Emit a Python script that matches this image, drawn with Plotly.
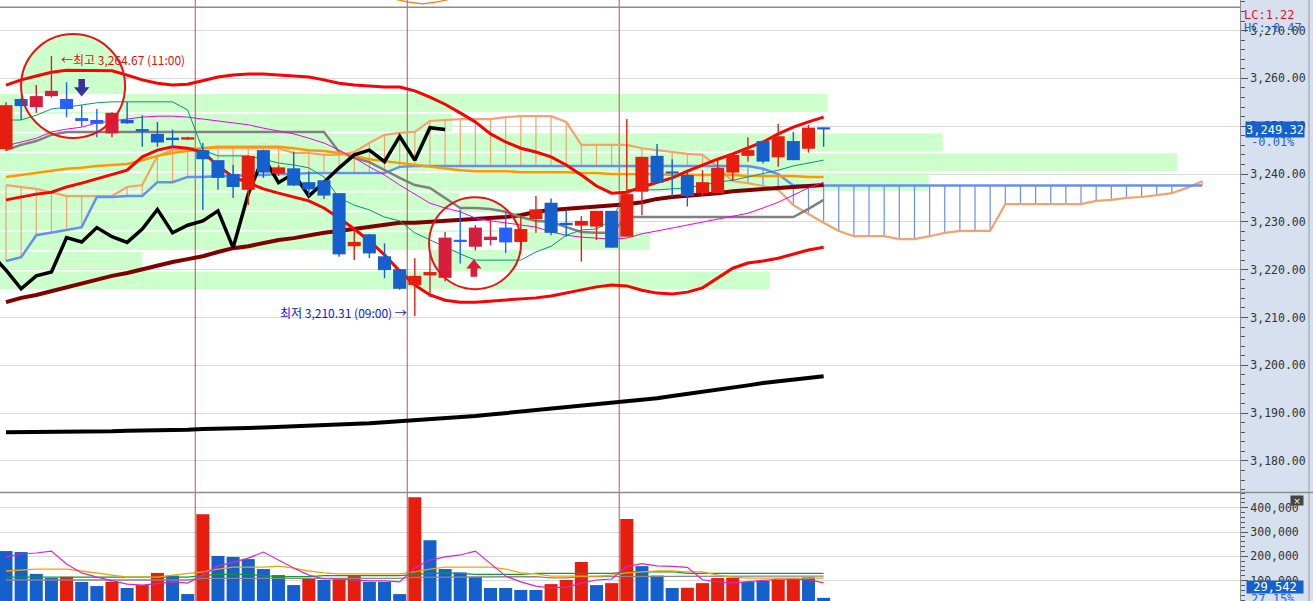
import math
import plotly.graph_objects as go

# ======================= DATA =======================
bar_idx = list(range(55))
price_open = [3245.2, 3255.7, 3254.0, 3256.3, 3255.7, 3251.7, 3251.3, 3248.5, 3251.3, 3249.4,
              3248.4, 3247.6, 3247.2, 3245.0, 3242.9, 3240.0, 3236.7, 3245.0, 3240.1, 3241.2,
              3238.3, 3238.7, 3236.0, 3224.9, 3227.4, 3222.8, 3220.1, 3216.8, 3218.8, 3218.3,
              3226.2, 3224.8, 3226.2, 3228.8, 3225.8, 3230.6, 3234.0, 3229.8, 3229.2, 3229.0,
              3232.3, 3226.9, 3236.3, 3243.8, 3240.5, 3239.8, 3236.0, 3236.0, 3240.3, 3243.8,
              3246.9, 3243.5, 3246.9, 3245.3, 3249.7]
price_high = [3255.0, 3255.9, 3258.6, 3264.67, 3259.2, 3254.4, 3253.6, 3252.9, 3255.1, 3252.3,
              3250.9, 3249.3, 3247.8, 3246.5, 3242.9, 3241.9, 3243.8, 3245.0, 3241.8, 3244.7,
              3240.5, 3238.7, 3236.0, 3228.3, 3227.4, 3225.5, 3220.1, 3222.4, 3223.4, 3227.9,
              3232.6, 3229.3, 3230.6, 3232.1, 3231.4, 3235.4, 3234.9, 3232.6, 3231.2, 3232.3,
              3232.3, 3251.5, 3243.6, 3246.3, 3243.1, 3240.6, 3240.8, 3243.3, 3244.0, 3247.7,
              3246.9, 3250.5, 3248.8, 3250.3, 3249.7]
price_low = [3244.8, 3251.3, 3252.8, 3256.0, 3251.9, 3249.9, 3247.7, 3247.7, 3250.5, 3245.7,
             3245.7, 3245.7, 3247.1, 3232.5, 3236.7, 3235.0, 3233.5, 3239.2, 3239.6, 3237.5,
             3235.3, 3234.8, 3222.7, 3222.0, 3222.4, 3218.2, 3215.8, 3210.31, 3214.3, 3217.5,
             3221.3, 3224.0, 3225.1, 3223.5, 3225.8, 3227.7, 3227.2, 3226.9, 3221.7, 3226.2,
             3224.6, 3226.9, 3231.4, 3238.2, 3235.3, 3233.2, 3235.4, 3236.0, 3238.6, 3242.6,
             3242.2, 3241.5, 3242.9, 3244.5, 3245.7]
price_close = [3254.4, 3254.2, 3256.3, 3257.4, 3253.6, 3251.1, 3250.5, 3252.8, 3250.6, 3248.9,
               3246.6, 3247.1, 3247.7, 3243.1, 3239.2, 3237.3, 3243.8, 3240.3, 3241.4, 3237.6,
               3236.8, 3235.5, 3223.2, 3225.8, 3223.4, 3219.9, 3216.0, 3218.7, 3219.5, 3226.7,
               3225.8, 3228.8, 3226.9, 3225.7, 3228.5, 3232.6, 3227.7, 3229.3, 3230.2, 3232.3,
               3224.6, 3235.8, 3243.6, 3238.2, 3240.1, 3235.4, 3238.3, 3241.3, 3244.0, 3245.0,
               3242.6, 3247.9, 3242.9, 3249.7, 3249.32]
circled_bars = [2, 3, 4, 5, 6, 7, 29, 30, 31, 32, 33]
lag_shift = 25

bb_upper = [3258.6, 3259.7, 3260.5, 3261.3, 3261.7, 3261.7, 3261.7, 3261.6, 3260.7, 3259.7,
            3259.0, 3258.6, 3258.8, 3259.5, 3260.3, 3260.7, 3260.9, 3260.9, 3260.7, 3260.5,
            3260.3, 3259.7, 3259.0, 3258.6, 3258.4, 3258.2, 3258.2, 3257.4, 3256.1, 3254.6,
            3252.8, 3250.9, 3248.4, 3246.7, 3245.4, 3244.6, 3243.6, 3241.9, 3239.8, 3237.5,
            3236.0, 3236.2, 3237.3, 3238.3, 3239.2, 3240.6, 3241.9, 3243.1, 3244.2, 3245.4,
            3246.7, 3248.4, 3249.8, 3250.9, 3251.9]
bb_lower = [3234.6, 3235.2, 3235.8, 3236.2, 3237.3, 3238.1, 3239.0, 3240.0, 3240.8, 3243.6,
            3245.0, 3245.7, 3245.4, 3244.6, 3241.7, 3239.4, 3238.1, 3236.9, 3236.0, 3235.2,
            3234.4, 3232.9, 3230.8, 3228.5, 3226.0, 3223.1, 3219.7, 3216.8, 3214.7, 3213.6,
            3213.2, 3213.2, 3213.4, 3213.6, 3213.9, 3214.1, 3214.5, 3215.1, 3215.7, 3216.4,
            3216.8, 3216.6, 3215.7, 3215.1, 3214.9, 3215.3, 3216.2, 3218.2, 3220.3, 3221.4,
            3221.8, 3222.4, 3223.3, 3224.1, 3224.7]
ma_maroon = [3213.2, 3214.1, 3214.7, 3215.5, 3216.4, 3217.2, 3217.8, 3218.7, 3219.3, 3220.1,
             3220.8, 3221.6, 3222.2, 3222.8, 3223.7, 3224.5, 3224.9, 3225.6, 3226.2, 3226.6,
             3227.2, 3227.7, 3228.1, 3228.5, 3228.9, 3229.3, 3229.8, 3229.8, 3230.0, 3230.0,
             3230.2, 3230.4, 3230.6, 3231.0, 3231.4, 3232.1, 3232.5, 3232.7, 3232.9, 3233.1,
             3233.5, 3233.7, 3234.1, 3234.8, 3235.2, 3235.4, 3235.6, 3236.0, 3236.4, 3236.7,
             3236.9, 3237.1, 3237.3, 3237.5, 3237.7]
ma_black = [3186.0, 3186.0, 3186.0, 3186.0, 3186.1, 3186.1, 3186.2, 3186.2, 3186.3, 3186.3,
            3186.4, 3186.4, 3186.5, 3186.7, 3186.7, 3186.8, 3186.9, 3187.0, 3187.1, 3187.2,
            3187.3, 3187.5, 3187.6, 3187.7, 3187.9, 3188.1, 3188.3, 3188.5, 3188.8, 3189.0,
            3189.2, 3189.4, 3189.7, 3190.0, 3190.2, 3190.5, 3190.8, 3191.1, 3191.4, 3191.7,
            3192.1, 3192.5, 3192.8, 3193.1, 3193.6, 3194.0, 3194.4, 3194.8, 3195.2, 3195.8,
            3196.3, 3196.7, 3197.1, 3197.4, 3197.7]
ma_orange = [3239.4, 3239.8, 3240.2, 3240.6, 3241.1, 3241.3, 3241.7, 3241.9, 3242.1, 3242.9,
             3243.8, 3244.4, 3244.8, 3245.4, 3245.7, 3245.7, 3245.7, 3245.7, 3245.7, 3245.4,
             3245.0, 3244.8, 3244.4, 3243.8, 3243.1, 3242.7, 3242.3, 3241.9, 3241.5, 3241.1,
             3240.8, 3240.6, 3240.6, 3240.6, 3240.4, 3240.4, 3240.4, 3240.4, 3240.2, 3240.2,
             3240.0, 3240.0, 3240.0, 3240.0, 3239.8, 3239.8, 3239.8, 3239.8, 3239.8, 3239.6,
             3239.6, 3239.6, 3239.6, 3239.4, 3239.4]
kijun = [3245.0, 3246.1, 3246.9, 3248.2, 3248.8, 3248.8, 3248.8, 3248.8, 3248.8, 3248.8,
         3248.8, 3248.8, 3248.8, 3248.8, 3248.8, 3248.8, 3248.8, 3248.8, 3248.8, 3248.8,
         3248.8, 3248.8, 3244.6, 3243.4, 3242.5, 3240.8, 3239.2, 3237.7, 3237.1, 3235.0,
         3232.9, 3232.9, 3232.7, 3232.1, 3231.0, 3230.2, 3230.0, 3228.9, 3227.9, 3227.7,
         3227.7, 3231.0, 3231.0, 3231.0, 3231.0, 3231.0, 3231.0, 3231.0, 3231.0, 3231.0,
         3231.0, 3231.0, 3231.0, 3232.7, 3234.6]
ma_magenta = [3245.9, 3246.7, 3247.5, 3248.8, 3249.4, 3249.8, 3250.7, 3251.1, 3251.5, 3251.9,
              3252.1, 3252.1, 3251.9, 3251.5, 3251.1, 3250.7, 3250.3, 3249.6, 3249.0, 3248.4,
              3247.5, 3246.5, 3245.0, 3243.4, 3241.5, 3239.8, 3237.7, 3235.8, 3233.9, 3232.9,
              3232.1, 3230.8, 3230.2, 3229.8, 3229.3, 3228.9, 3227.9, 3227.2, 3226.8, 3226.6,
              3226.4, 3226.6, 3227.5, 3228.1, 3228.7, 3229.3, 3230.0, 3230.6, 3231.2, 3231.8,
              3232.9, 3234.1, 3235.6, 3237.1, 3238.3]
tenkan = [3251.3, 3251.3, 3252.3, 3253.6, 3254.0, 3254.4, 3254.9, 3255.1, 3255.1, 3255.1,
          3255.1, 3255.1, 3253.4, 3245.0, 3243.8, 3243.8, 3243.8, 3243.1, 3242.3, 3241.9,
          3241.3, 3239.4, 3235.0, 3233.5, 3232.5, 3231.0, 3230.2, 3227.7, 3226.2, 3224.7,
          3223.3, 3222.0, 3222.0, 3222.0, 3222.0, 3223.7, 3224.9, 3227.2, 3228.3, 3228.5,
          3230.4, 3236.7, 3236.7, 3236.7, 3236.9, 3237.1, 3237.7, 3238.3, 3238.7, 3239.4,
          3240.0, 3240.8, 3241.7, 3242.3, 3242.9]
cloud_idx = list(range(80))
span_blue = [3221.8, 3222.6, 3227.2, 3227.7, 3228.3, 3228.9, 3235.2, 3235.2, 3235.4, 3235.4,
             3238.3, 3238.3, 3239.4, 3239.4, 3239.6, 3239.6, 3239.8, 3239.8, 3240.0, 3240.0,
             3240.2, 3240.2, 3240.2, 3240.2, 3240.2, 3240.2, 3241.5, 3241.7, 3241.7, 3241.7,
             3241.7, 3241.7, 3241.7, 3241.7, 3241.7, 3241.7, 3241.7, 3241.7, 3241.7, 3241.7,
             3241.7, 3241.7, 3241.7, 3241.7, 3241.7, 3241.7, 3241.7, 3241.7, 3241.7, 3241.7,
             3241.1, 3240.0, 3237.6, 3237.6, 3237.6, 3237.6, 3237.6, 3237.6, 3237.6, 3237.6,
             3237.6, 3237.6, 3237.6, 3237.6, 3237.6, 3237.6, 3237.6, 3237.6, 3237.6, 3237.6,
             3237.6, 3237.6, 3237.6, 3237.6, 3237.6, 3237.6, 3237.6, 3237.6, 3237.6, 3237.6]
span_salmon = [3237.7, 3237.3, 3236.9, 3236.2, 3235.4, 3235.4, 3235.4, 3235.4, 3237.3, 3237.7,
               3243.8, 3245.0, 3245.4, 3245.4, 3245.4, 3245.4, 3245.4, 3245.4, 3245.4, 3244.4,
               3244.4, 3244.0, 3244.0, 3244.6, 3246.5, 3248.2, 3248.6, 3248.8, 3251.1, 3251.3,
               3251.5, 3251.5, 3251.5, 3251.9, 3252.1, 3252.1, 3252.1, 3250.9, 3246.1, 3246.1,
               3246.1, 3246.1, 3245.4, 3245.0, 3244.6, 3244.2, 3244.0, 3241.5, 3238.5, 3238.1,
               3237.5, 3236.7, 3233.5, 3231.6, 3229.8, 3228.1, 3227.0, 3227.0, 3227.0, 3226.4,
               3226.4, 3227.0, 3227.7, 3228.1, 3228.1, 3228.1, 3233.7, 3233.7, 3233.7, 3233.7,
               3233.7, 3233.7, 3234.4, 3234.6, 3235.0, 3235.2, 3235.6, 3236.0, 3237.1, 3238.5]
top_line_price = 3274.9
top_curve_idx = [25.5, 26.5, 27.5, 28.5, 29.5]
top_curve_val = [3276.7, 3276.0, 3275.6, 3276.0, 3276.7]
session_breaks = [12.5, 26.5, 40.5]

# horizontal volume profile (price bins, relative volume in % of largest bin)
vp_price = [3217.76, 3221.88, 3226.00, 3230.12, 3234.24, 3238.36, 3242.48, 3246.60, 3250.72, 3254.84]
vp_rel = [65.4, 12.1, 55.2, 45.9, 39.1, 78.9, 100.0, 80.1, 38.4, 70.3]

volume = [222000, 218000, 128000, 111000, 116000, 95000, 78000, 96000, 70000, 82000,
          132000, 121000, 45000, 374000, 202000, 198000, 189000, 148000, 123000, 82000,
          108000, 103000, 106000, 119000, 95000, 95000, 45000, 444000, 267000, 148000,
          134000, 116000, 70000, 70000, 62000, 62000, 86000, 103000, 177000, 82000,
          90000, 354000, 160000, 121000, 70000, 71000, 90000, 111000, 112000, 95000,
          99000, 103000, 108000, 114000, 29542]
volume_up = ['b', 'b', 'b', 'b', 'r', 'b', 'b', 'r', 'b', 'r',
             'r', 'b', 'b', 'r', 'b', 'b', 'b', 'b', 'b', 'b',
             'r', 'b', 'r', 'r', 'b', 'b', 'b', 'r', 'b', 'b',
             'b', 'b', 'b', 'b', 'b', 'b', 'r', 'r', 'r', 'b',
             'r', 'r', 'b', 'b', 'b', 'r', 'r', 'r', 'r', 'b',
             'b', 'r', 'r', 'b', 'b']
vma_magenta = [198000, 210000, 214000, 222000, 169000, 132000, 115000, 99000, 86000, 82000,
               90000, 95000, 90000, 123000, 160000, 177000, 193000, 218000, 185000, 152000,
               123000, 107000, 107000, 103000, 99000, 99000, 95000, 152000, 185000, 198000,
               206000, 222000, 169000, 119000, 95000, 78000, 70000, 74000, 90000, 103000,
               107000, 158000, 170000, 161000, 159000, 155000, 104000, 95000, 91000, 96000,
               101000, 106000, 106000, 104000, 91000]
vma_orange = [140000, 144000, 148000, 148000, 148000, 140000, 132000, 123000, 115000, 115000,
              115000, 123000, 128000, 136000, 148000, 156000, 156000, 156000, 160000, 152000,
              140000, 132000, 128000, 128000, 128000, 128000, 128000, 136000, 148000, 156000,
              156000, 156000, 156000, 148000, 132000, 128000, 119000, 119000, 119000, 119000,
              123000, 132000, 136000, 140000, 140000, 136000, 136000, 123000, 115000, 111000,
              111000, 111000, 111000, 111000, 111000]
vma_green = [115000, 115000, 115000, 115000, 115000, 115000, 115000, 115000, 115000, 115000,
             115000, 115000, 115000, 121000, 126000, 126000, 126000, 121000, 117000, 117000,
             117000, 121000, 121000, 121000, 121000, 121000, 121000, 126000, 130000, 132000,
             130000, 126000, 126000, 126000, 126000, 130000, 130000, 130000, 130000, 130000,
             130000, 136000, 137000, 137000, 137000, 130000, 130000, 130000, 130000, 130000,
             130000, 130000, 130000, 130000, 130000]
vma_gray = [103000, 103000, 103000, 103000, 103000, 103000, 103000, 103000, 103000, 103000,
            103000, 103000, 103000, 110000, 110000, 110000, 110000, 110000, 110000, 110000,
            110000, 110000, 110000, 110000, 110000, 110000, 110000, 114000, 114000, 114000,
            114000, 117000, 117000, 117000, 117000, 117000, 112000, 112000, 117000, 117000,
            117000, 119000, 119000, 119000, 119000, 119000, 119000, 119000, 119000, 119000,
            119000, 119000, 119000, 119000, 119000]

hi_label = "←최고 3,264.67 (11:00)"
lo_label = "최저 3,210.31 (09:00) →"
last_price_label = "3,249.32"
last_change_label = "-0.01%"
last_volume_label = "29,542"
volume_change_label = "27.15%"
lc_label = "LC:1.22"
hc_label = "HC:-0.47"

# ======================= STYLE / GEOMETRY =======================
W, H = 1313, 601
PLOT_W, PRICE_H = 1240, 492
X_RANGE = [-0.396, 81.5]
Y_RANGE = [3173.5, 3276.4]
V_RANGE = [16500, 461000]
VP_RANGE = [0, 105.35]
VP_BAR = 3.75
PX_PER_BAR = PLOT_W / (X_RANGE[1] - X_RANGE[0])
PX_PER_PT = PRICE_H / (Y_RANGE[1] - Y_RANGE[0])


def px_x(px):  # horizontal page pixel -> paper fraction (paper spans the plot area)
    return px / PLOT_W


def px_y(py):  # vertical page pixel (from top) -> paper fraction
    return 1 - py / H


GREEN = '#ccffcc'
RED = '#e61e0f'
BLUE = '#1560cc'
RED_HL = '#d51e3c'
BLUE_HL = '#2660ff'
SALMON = '#f5a26c'
CBLUE = '#6a8ef0'

fig = go.Figure()

# volume profile bands (base subplot, bottom layer)
fig.add_trace(go.Bar(x=vp_rel, y=vp_price, orientation='h', width=VP_BAR,
                     marker=dict(color=GREEN, line=dict(width=0)),
                     xaxis='x', yaxis='y', hoverinfo='skip', showlegend=False))


# ---- circled (inverted) regions ----
def circle_pts(cx, cy, rpx, n=180):
    pts = []
    for k in range(n):
        t = 2 * math.pi * k / n
        pts.append((cx + rpx * math.cos(t) / PX_PER_BAR, cy + rpx * math.sin(t) / PX_PER_PT))
    return pts


def clip_rect(poly, xmin, xmax, ymin, ymax):
    def clip(pts, inside, inter):
        out = []
        for k in range(len(pts)):
            cur, prev = pts[k], pts[k - 1]
            if inside(cur):
                if not inside(prev):
                    out.append(inter(prev, cur))
                out.append(cur)
            elif inside(prev):
                out.append(inter(prev, cur))
        return out

    def ix(p, q, v):
        t = (v - p[0]) / (q[0] - p[0])
        return (v, p[1] + t * (q[1] - p[1]))

    def iy(p, q, v):
        t = (v - p[1]) / (q[1] - p[1])
        return (p[0] + t * (q[0] - p[0]), v)

    steps = [(lambda p: p[0] >= xmin, lambda p, q: ix(p, q, xmin)),
             (lambda p: p[0] <= xmax, lambda p, q: ix(p, q, xmax)),
             (lambda p: p[1] >= ymin, lambda p, q: iy(p, q, ymin)),
             (lambda p: p[1] <= ymax, lambda p, q: iy(p, q, ymax))]
    pts = poly
    for inside, inter in steps:
        if not pts:
            break
        pts = clip(pts, inside, inter)
    return pts


circles = [(4.43, 3258.4, 52), (30.98, 3225.55, 46)]
for cx, cy, r in circles:
    poly = circle_pts(cx, cy, r)
    fig.add_trace(go.Scatter(x=[p[0] for p in poly] + [poly[0][0]], y=[p[1] for p in poly] + [poly[0][1]],
                             fill='toself', fillcolor=GREEN, mode='lines', line=dict(width=0),
                             xaxis='x2', yaxis='y', hoverinfo='skip', showlegend=False))
    for pv, rel in zip(vp_price, vp_rel):
        xend = X_RANGE[0] + rel / VP_RANGE[1] * (X_RANGE[1] - X_RANGE[0])
        part = clip_rect(poly, X_RANGE[0], xend, pv - VP_BAR / 2, pv + VP_BAR / 2)
        if len(part) > 2:
            fig.add_trace(go.Scatter(x=[p[0] for p in part] + [part[0][0]],
                                     y=[p[1] for p in part] + [part[0][1]],
                                     fill='toself', fillcolor='white', mode='lines', line=dict(width=0),
                                     xaxis='x2', yaxis='y', hoverinfo='skip', showlegend=False))

# session separators
sx, sy = [], []
for b in session_breaks:
    sx += [b, b, None]
    sy += [Y_RANGE[0], Y_RANGE[1], None]
fig.add_trace(go.Scatter(x=sx, y=sy, mode='lines', line=dict(color='#c0504d', width=1),
                         xaxis='x2', yaxis='y', hoverinfo='skip', showlegend=False))

# ichimoku cloud hatching
hx_s, hy_s, hx_b, hy_b = [], [], [], []
for i, a, b in zip(cloud_idx, span_blue, span_salmon):
    if b >= a:
        hx_s += [i, i, None]
        hy_s += [a, b, None]
    else:
        hx_b += [i, i, None]
        hy_b += [a, b, None]
fig.add_trace(go.Scatter(x=hx_s, y=hy_s, mode='lines', line=dict(color=SALMON, width=1.2),
                         xaxis='x2', yaxis='y', hoverinfo='skip', showlegend=False))
fig.add_trace(go.Scatter(x=hx_b, y=hy_b, mode='lines', line=dict(color=CBLUE, width=1.2),
                         xaxis='x2', yaxis='y', hoverinfo='skip', showlegend=False))


def line(xs, ys, color, width, xa='x2', ya='y'):
    fig.add_trace(go.Scatter(x=xs, y=ys, mode='lines', line=dict(color=color, width=width),
                             xaxis=xa, yaxis=ya, hoverinfo='skip', showlegend=False))


line(cloud_idx, span_salmon, SALMON, 2.2)
line(cloud_idx, span_blue, CBLUE, 2.5)
line(bar_idx, ma_black, '#000000', 4)
line(bar_idx, ma_maroon, '#800000', 4)
line(bar_idx, kijun, '#808080', 2.5)
line(bar_idx, ma_orange, '#ff9900', 2.5)
line(bar_idx, ma_magenta, '#ee00ee', 1)
line(bar_idx, tenkan, '#009977', 1)
line(bar_idx, bb_upper, '#ff0000', 3)
line(bar_idx, bb_lower, '#ff0000', 3)
lag_x = [i - lag_shift for i in range(lag_shift - 1, len(price_close))]
lag_y = price_close[lag_shift - 1:]
line(lag_x, lag_y, '#000000', 3.5)
line([X_RANGE[0], X_RANGE[1]], [top_line_price, top_line_price], '#8c8c8c', 1.5)
line(top_curve_idx, top_curve_val, '#ff7700', 1.2)

# ---- candles (overlay subplot, above indicator lines) ----
body_base, body_len, body_col = [], [], []
wicks = {}
for i, o, h, l, c in zip(bar_idx, price_open, price_high, price_low, price_close):
    up = c >= o
    if i in circled_bars:
        col = RED_HL if up else BLUE_HL
    else:
        col = RED if up else BLUE
    body_base.append(min(o, c))
    body_len.append(max(abs(c - o), 0.45))
    body_col.append(col)
    wx, wy = wicks.setdefault(col, ([], []))
    wx += [i, i, None]
    wy += [l, h, None]
for col, (wx, wy) in wicks.items():
    line(wx, wy, col, 1.4, xa='x3')
fig.add_trace(go.Bar(x=bar_idx, y=body_len, base=body_base, width=0.86,
                     marker=dict(color=body_col, line=dict(width=0)),
                     xaxis='x3', yaxis='y', hoverinfo='skip', showlegend=False))


# arrows (pixel-sized glyphs anchored to bars)
def arrow(tip_idx, tip_price, direction, color):
    shape = [(0, 0), (-7.7, 9.4), (-3.3, 9.4), (-3.3, 17.7), (3.3, 17.7), (3.3, 9.4), (7.7, 9.4), (0, 0)]
    xs = [tip_idx + dx / PX_PER_BAR for dx, dy in shape]
    ys = [tip_price + direction * dy / PX_PER_PT for dx, dy in shape]
    fig.add_trace(go.Scatter(x=xs, y=ys, fill='toself', fillcolor=color, mode='lines',
                             line=dict(width=0, color=color), xaxis='x3', yaxis='y',
                             hoverinfo='skip', showlegend=False))


arrow(5.0, 3256.2, 1, '#3d2f9c')
arrow(30.9, 3222.2, -1, '#e0183c')

# ---- volume panel ----
fig.add_trace(go.Bar(x=bar_idx, y=volume, width=0.86,
                     marker=dict(color=[RED if f == 'r' else BLUE for f in volume_up], line=dict(width=0)),
                     xaxis='x4', yaxis='y2', hoverinfo='skip', showlegend=False))
line(bar_idx, vma_gray, '#888888', 1.3, xa='x4', ya='y2')
line(bar_idx, vma_green, '#119933', 1.3, xa='x4', ya='y2')
line(bar_idx, vma_orange, '#f0a500', 1.3, xa='x4', ya='y2')
line(bar_idx, vma_magenta, '#dd22cc', 1.2, xa='x4', ya='y2')

# ---- shapes ----
shapes = []
for cx, cy, r in circles:
    shapes.append(dict(type='circle', xref='x3', yref='y',
                       x0=cx - r / PX_PER_BAR, x1=cx + r / PX_PER_BAR,
                       y0=cy - r / PX_PER_PT, y1=cy + r / PX_PER_PT,
                       line=dict(color='#ee1111', width=2), layer='above'))
for b in session_breaks:
    shapes.append(dict(type='line', xref='x4', yref='y2 domain', x0=b, x1=b, y0=0, y1=1,
                       line=dict(color='#c0504d', width=1), layer='above'))
shapes.append(dict(type='line', xref='paper', yref='paper', x0=0, x1=px_x(W),
                   y0=px_y(492.5), y1=px_y(492.5), line=dict(color='#8c8c8c', width=1.5)))
shapes.append(dict(type='line', xref='paper', yref='paper', x0=px_x(1309), x1=px_x(1309),
                   y0=0, y1=1, line=dict(color='#9a9a9a', width=1)))

# ---- annotations ----
TXT = 'DejaVu Sans Mono'
ann = []
ann.append(dict(text=hi_label, x=3, y=3264.67, xref='x3', yref='y', xanchor='left', yanchor='middle',
                xshift=8, yshift=-3, showarrow=False,
                font=dict(family='Noto Sans CJK KR', size=12, color='#e01010')))
ann.append(dict(text=lo_label, x=27, y=3210.31, xref='x3', yref='y', xanchor='right', yanchor='middle',
                xshift=-6, yshift=4, showarrow=False,
                font=dict(family='Noto Sans CJK KR', size=12, color='#1010ee')))
ann.append(dict(text=lc_label, x=px_x(1242), y=px_y(15), xref='paper', yref='paper', xanchor='left',
                yanchor='middle', showarrow=False, font=dict(family=TXT, size=12, color='#e8141c')))
ann.append(dict(text=hc_label, x=px_x(1242), y=px_y(28), xref='paper', yref='paper', xanchor='left',
                yanchor='middle', showarrow=False, font=dict(family=TXT, size=12, color='#1e64d8')))
ann.append(dict(text=last_price_label, x=px_x(1275), y=price_close[-1], xref='paper', yref='y',
                xanchor='center', yanchor='middle', showarrow=False, bgcolor=BLUE, width=56, height=13,
                borderpad=1, font=dict(family=TXT, size=12, color='white')))
ann.append(dict(text=last_change_label, x=px_x(1249), y=px_y(142), xref='paper', yref='paper',
                xanchor='left', yanchor='middle', showarrow=False,
                font=dict(family=TXT, size=12, color='#1e64d8')))
ann.append(dict(text=last_volume_label, x=px_x(1275), y=px_y(587), xref='paper', yref='paper',
                xanchor='center', yanchor='middle', showarrow=False, bgcolor=BLUE, width=56, height=12,
                borderpad=0, font=dict(family=TXT, size=12, color='white')))
ann.append(dict(text=volume_change_label, x=px_x(1249), y=px_y(599), xref='paper', yref='paper',
                xanchor='left', yanchor='middle', showarrow=False,
                font=dict(family=TXT, size=12, color='#1e64d8')))
ann.append(dict(text='×', x=px_x(1297), y=px_y(500.5), xref='paper', yref='paper', xanchor='center',
                yanchor='middle', showarrow=False, bgcolor='#444444', width=12, height=9, borderpad=0,
                font=dict(family='DejaVu Sans', size=9, color='white')))

axis_font = dict(family=TXT, size=11.5, color='#333333')
price_split = 1 - PRICE_H / H
fig.update_layout(
    template='none',
    width=W, height=H, margin=dict(l=0, r=W - PLOT_W, t=0, b=0, pad=0, autoexpand=False),
    paper_bgcolor='#d6e0ee', plot_bgcolor='white',
    barmode='overlay', showlegend=False, hovermode=False,
    xaxis=dict(domain=[0, 1], range=VP_RANGE, visible=False, anchor='y', fixedrange=True, automargin=False),
    xaxis2=dict(overlaying='x', range=X_RANGE, visible=False, anchor='y', automargin=False),
    xaxis3=dict(overlaying='x', range=X_RANGE, visible=False, anchor='y', automargin=False),
    xaxis4=dict(domain=[0, 1], range=X_RANGE, visible=False, anchor='y2', automargin=False),
    yaxis=dict(domain=[price_split, 1], range=Y_RANGE, side='right', anchor='x', automargin=False,
               showgrid=True, gridcolor='#d9d9d9', gridwidth=1, zeroline=False,
               tickmode='linear', tick0=3180, dtick=10, tickformat=',.2f',
               ticks='outside', ticklen=7, tickcolor='#555555', showline=True, linecolor='#8c8c8c',
               minor=dict(dtick=2, ticks='outside', ticklen=4, tickcolor='#555555', showgrid=False),
               tickfont=axis_font),
    yaxis2=dict(domain=[0, 1 - 493 / H], range=V_RANGE, side='right', anchor='x4', automargin=False,
                showgrid=True, gridcolor='#d9d9d9', gridwidth=1, zeroline=False,
                tickmode='linear', tick0=0, dtick=100000, tickformat=',d',
                ticks='outside', ticklen=7, tickcolor='#555555', showline=True, linecolor='#8c8c8c',
                minor=dict(dtick=20000, ticks='outside', ticklen=4, tickcolor='#555555', showgrid=False),
                tickfont=axis_font),
    shapes=shapes, annotations=ann,
)

fig.write_html('out.html', config={'displayModeBar': False, 'staticPlot': True},
               post_script="document.body.style.margin='0';document.body.style.overflow='hidden';")
